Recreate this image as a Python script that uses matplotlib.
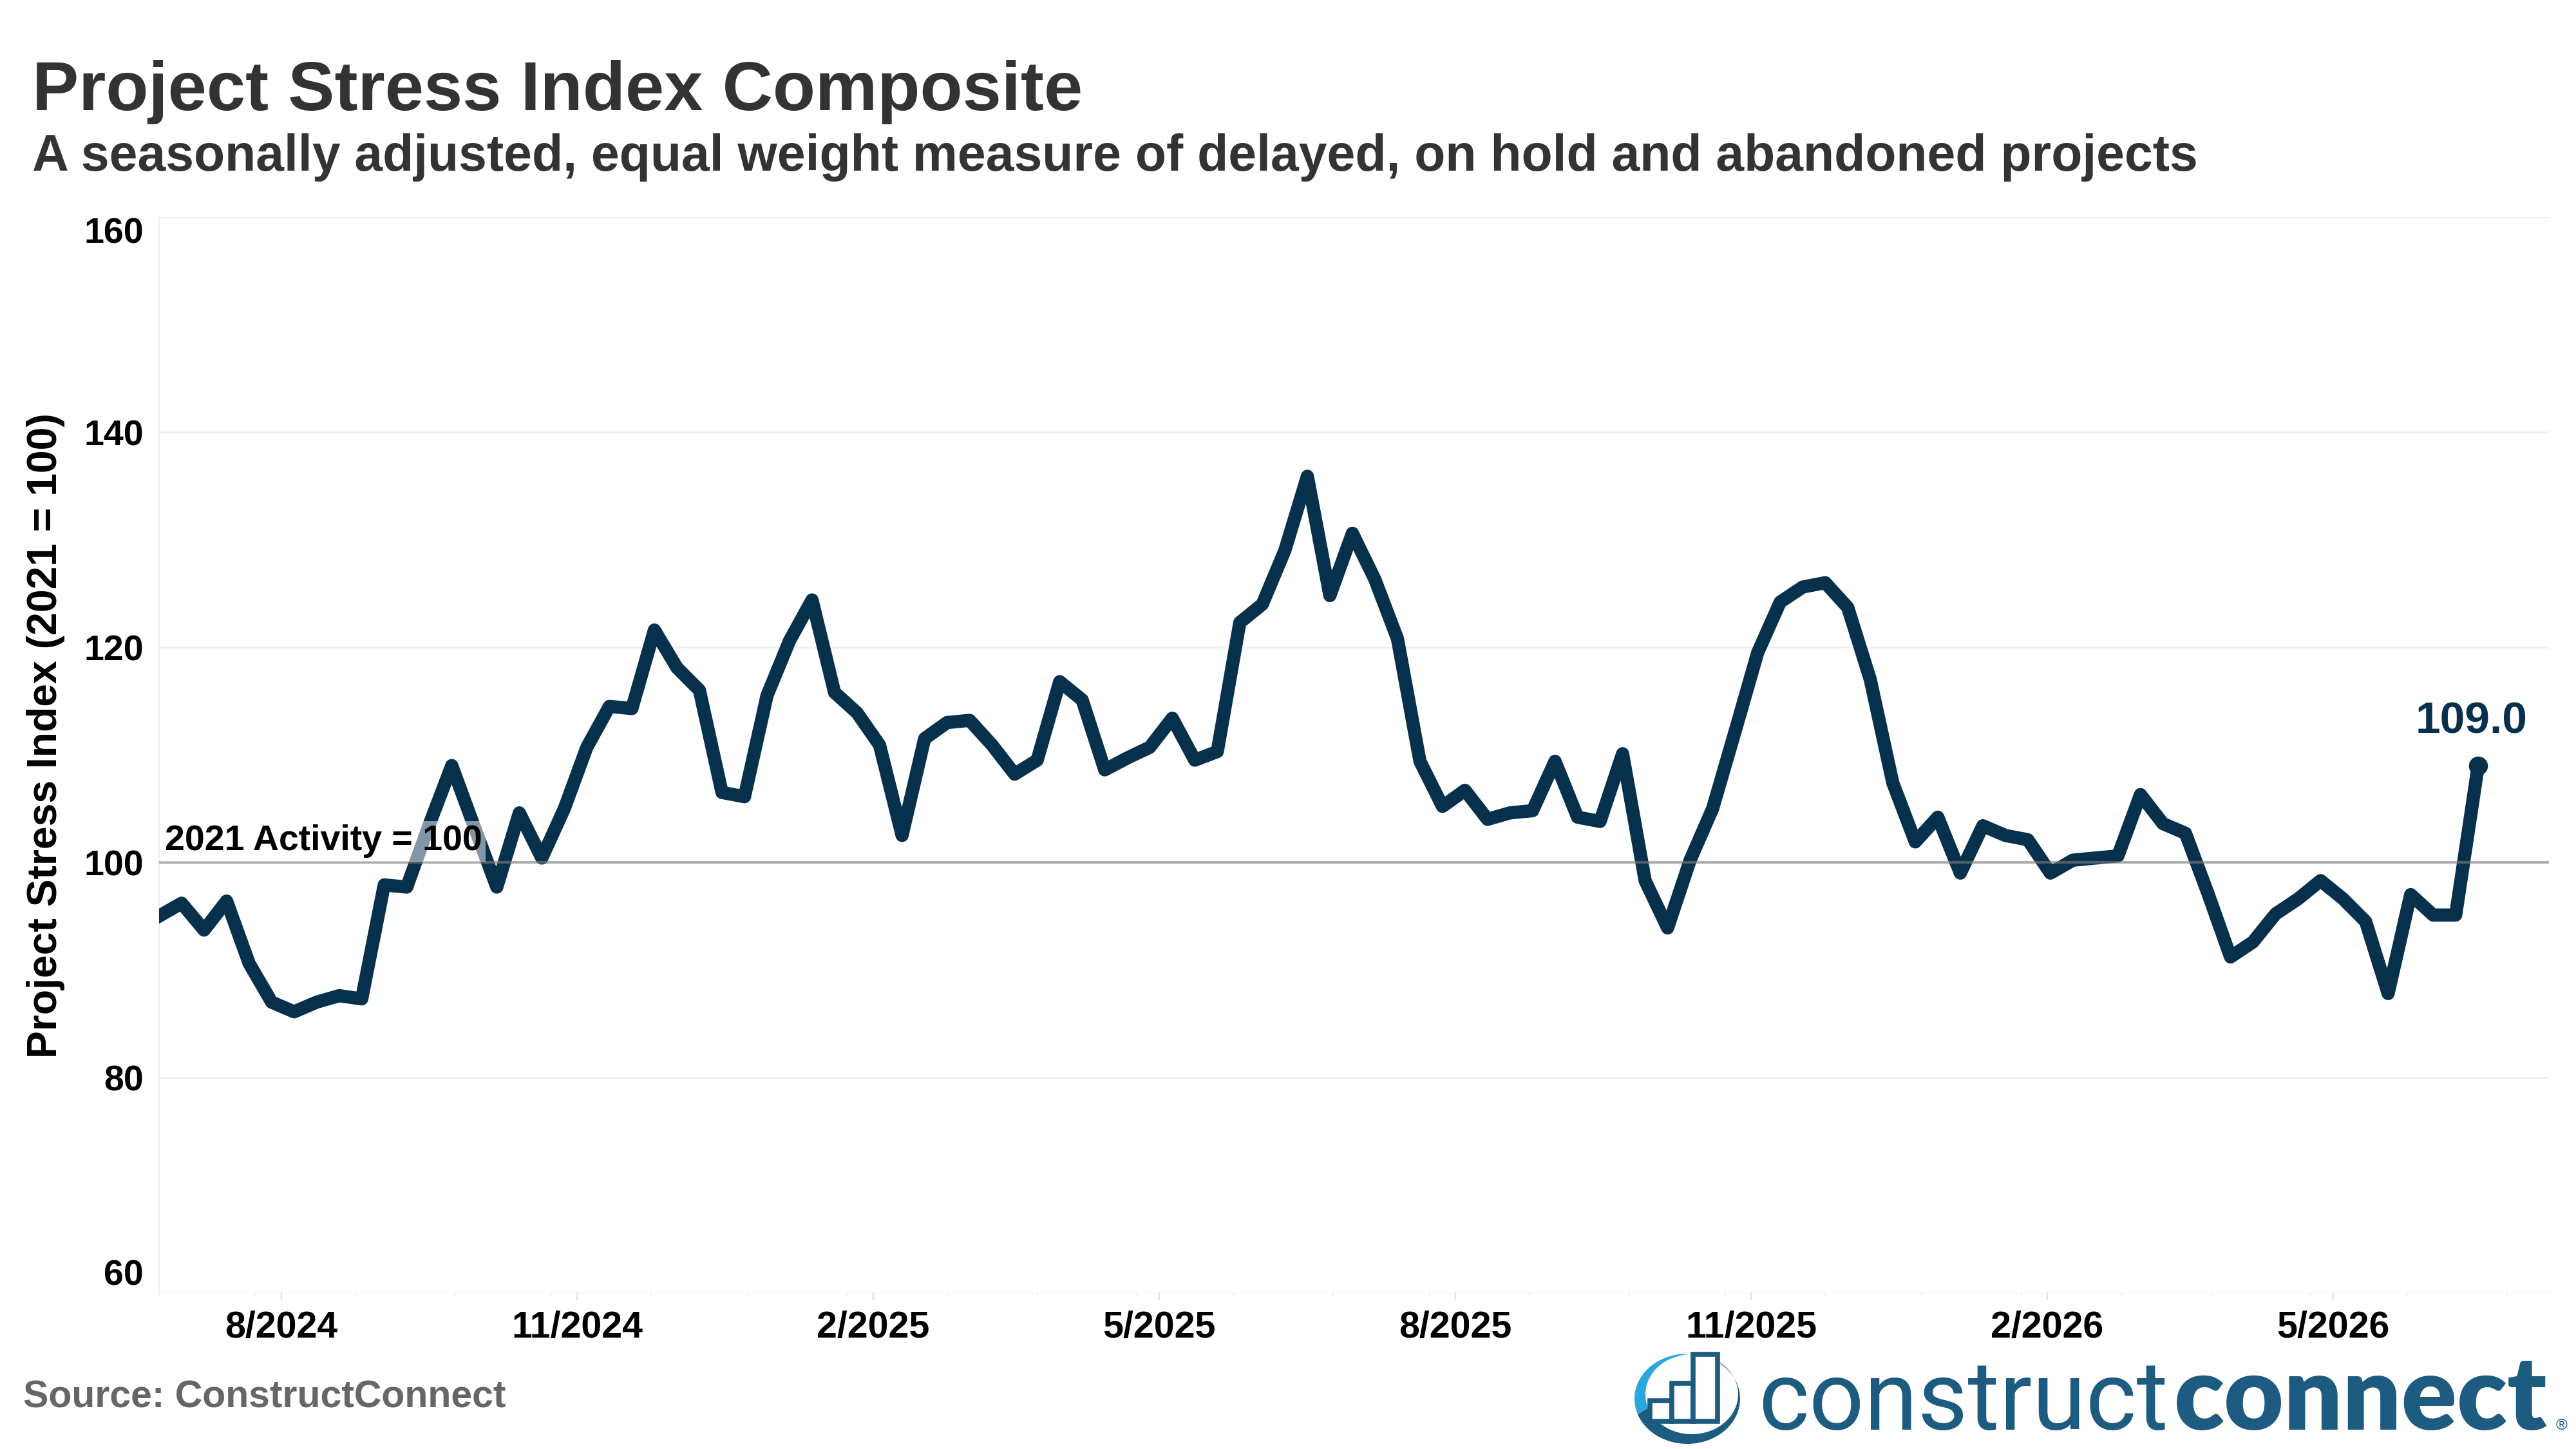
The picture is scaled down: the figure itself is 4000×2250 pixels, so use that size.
import numpy as np
import pandas as pd
import matplotlib
matplotlib.use("Agg")
import matplotlib.pyplot as plt
from matplotlib.patches import Rectangle, Polygon

plt.rcParams['font.family'] = ['Liberation Sans', 'DejaVu Sans']

# weekly index values
dates = pd.date_range('2024-06-24', periods=104, freq='7D')
values = [
    95.0, 96.2, 93.7, 96.4, 90.6, 87.0, 86.1, 87.0, 87.6, 87.3,
    97.9, 97.7, 103.5, 109.0, 103.3, 97.7, 104.6, 100.4, 105.0, 110.7,
    114.5, 114.3, 121.6, 118.1, 116.0, 106.5, 106.1, 115.5, 120.6, 124.4,
    115.8, 113.9, 110.9, 102.5, 111.5, 113.0, 113.2, 110.9, 108.2, 109.5,
    116.8, 115.1, 108.6, 109.7, 110.7, 113.4, 109.5, 110.3, 122.3, 124.0,
    129.0, 135.9, 124.8, 130.6, 126.3, 120.8, 109.4, 105.2, 106.7, 104.0,
    104.6, 104.8, 109.4, 104.2, 103.8, 110.1, 98.3, 93.9, 100.2, 105.0,
    112.2, 119.5, 124.2, 125.6, 126.0, 123.7, 117.0, 107.4, 101.9, 104.2,
    99.0, 103.4, 102.5, 102.1, 99.0, 100.2, 100.4, 100.6, 106.3, 103.6,
    102.7, 97.1, 91.2, 92.6, 95.2, 96.6, 98.3, 96.6, 94.5, 87.8,
    97.0, 95.1, 95.1, 109.0,
]
y_ticks = [60, 80, 100, 120, 140, 160]
major_dates = pd.date_range('2024-08-01', '2026-05-01', freq='3MS')
major_labels = [f"{d.month}/{d.year}" for d in major_dates]
minor_dates = pd.date_range('2024-06-24', periods=25, freq=pd.DateOffset(months=1))

title = "Project Stress Index Composite"
subtitle = "A seasonally adjusted, equal weight measure of delayed, on hold and abandoned projects"
ylabel = "Project Stress Index (2021 = 100)"

NAVY = '#06304b'
LOGO = '#1d5b80'

fig = plt.figure(figsize=(16, 9), dpi=250)
ax = fig.add_axes([0.06175, 0.108, 0.92775, 0.7422])

ax.plot(dates, values, color=NAVY, lw=5.9, solid_joinstyle='round', zorder=3)
ax.plot(dates[-1], values[-1], 'o', ms=7.5, color=NAVY, zorder=3)
ax.axhline(100, color='#7f7f7f', alpha=0.6, lw=1.2, zorder=4)

ax.set_ylim(60, 160)
ax.set_xlim(dates[0], pd.Timestamp('2026-07-07'))
ax.set_yticks(y_ticks)
ax.yaxis.grid(True, color='#efefef', lw=0.8)
ax.set_axisbelow(True)
for s in ['top', 'right', 'bottom']:
    ax.spines[s].set_visible(False)
ax.spines['left'].set_color('#f0f0f0')
ax.spines['left'].set_linewidth(0.6)

ax.set_xticks(major_dates)
ax.set_xticklabels(major_labels)
ax.set_xticks(minor_dates, minor=True)
ax.tick_params(axis='y', length=0, pad=7, labelsize=16)
ax.tick_params(axis='x', which='major', length=3.5, width=0.7, color='#e3e3e3', pad=4.5, labelsize=16.5)
ax.tick_params(axis='x', which='minor', length=2, width=0.5, color='#f0f0f0')
for lbl in ax.get_xticklabels() + ax.get_yticklabels():
    lbl.set_fontweight('bold')
ylabs = ax.get_yticklabels()
ylabs[0].set_va('bottom')
ylabs[-1].set_va('top')

ax.annotate('2021 Activity = 100', xy=(dates[0], 100), xytext=(2.6, 2),
            textcoords='offset points', ha='left', va='bottom', fontsize=16,
            fontweight='bold', color='black', zorder=5,
            bbox=dict(boxstyle='square,pad=0.1', fc='white', ec='none', alpha=0.5))
ax.annotate(f"{values[-1]:.1f}", xy=(dates[-1], values[-1]), xytext=(-3, 14.5),
            textcoords='offset points', ha='center', va='baseline', fontsize=20,
            fontweight='bold', color=NAVY)

fig.text(0.0178, 0.4924, ylabel, rotation=90, ha='center', va='center',
         fontsize=18.5, fontweight='bold', color='black')
fig.text(0.0125, 1 - 171 / 2250, title, fontsize=31.2, fontweight='bold', color='#333333', va='baseline')
fig.text(0.0125, 1 - 265 / 2250, subtitle, fontsize=22.7, fontweight='bold', color='#333333', va='baseline')
fig.text(0.009, 1 - 2186 / 2250, 'Source: ConstructConnect', fontsize=17, fontweight='bold',
         color='#666666', va='baseline')

# logo: wordmark
renderer = fig.canvas.get_renderer()
base_y = 1 - 2220 / 2250
t1 = fig.text(2730 / 4000, base_y, 'construct', fontsize=40, family='Roboto', fontweight='normal',
              color=LOGO, va='baseline')
w = t1.get_window_extent(renderer).width
t1.set_fontsize(40 * 636 / w)
t2 = fig.text(3376 / 4000, base_y, 'connect', fontsize=40, family='Lato', fontweight='heavy',
              color=LOGO, va='baseline')
w = t2.get_window_extent(renderer).width
t2.set_fontsize(40 * 579 / w)
fig.text(3969 / 4000, base_y, '®', fontsize=7, color=LOGO, va='baseline')

# logo: icon
iax = fig.add_axes([2530 / 4000, 0, 180 / 4000, 155 / 2250])
iax.set_xlim(0, 180)
iax.set_ylim(0, 155)
iax.axis('off')


def crescent(t0, t1_, color):
    th = np.radians(np.linspace(t0, t1_, 80))
    outer = np.column_stack([90 + 82 * np.cos(th), 78 + 70 * np.sin(th)])
    inner = np.column_stack([97 + 72 * np.cos(th[::-1]), 85 + 62 * np.sin(th[::-1])])
    iax.add_patch(Polygon(np.vstack([outer, inner]), closed=True, fc=color, ec='none'))


crescent(95, 200, '#2aa7df')
crescent(200, 425, LOGO)
for x0, x1, y1 in [(32, 66, 75), (66, 99, 102), (99, 137, 147)]:
    iax.add_patch(Rectangle((x0, 43), x1 - x0, y1 - 43, fc='white', ec=LOGO, lw=2.2))

fig.savefig('out.png', dpi=250)
